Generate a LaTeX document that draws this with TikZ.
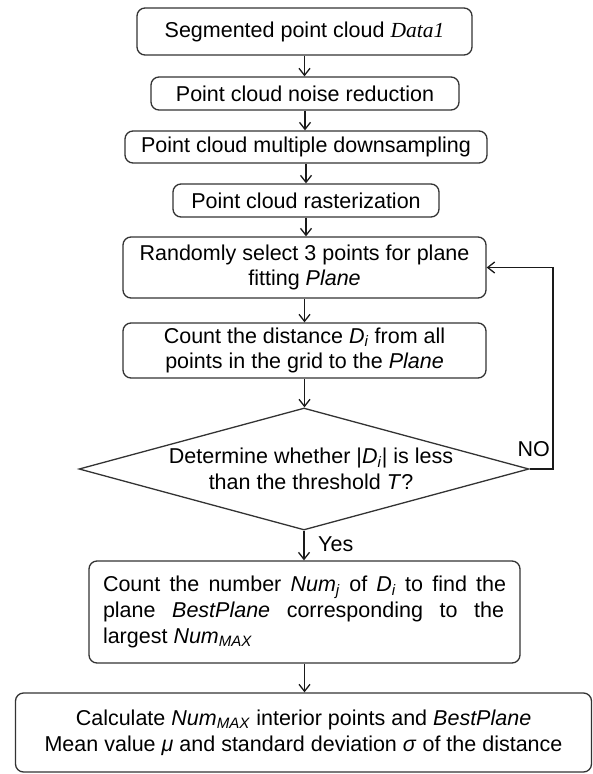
\documentclass[tikz,border=0pt]{standalone}
\usepackage{fontspec}
\setmainfont{Liberation Sans}
\newfontfamily\tnr{Liberation Serif}
\usetikzlibrary{shapes.geometric,arrows.meta}
\definecolor{lin}{HTML}{333333}
\definecolor{arc}{HTML}{1A1A1A}
\tikzset{
  every node/.style={font=\fontsize{21.5pt}{25.8pt}\selectfont, inner sep=0pt},
  rbox/.style={draw=lin, line width=1.3pt, rounded corners=8pt, align=center},
  arr/.style={draw=arc, line width=1.3pt, -{Straight Barb[length=7pt,width=11pt,line width=1.3pt]}},
  dmd/.style={draw=lin, line width=1.3pt, diamond},
}
\newcommand{\sub}[1]{\textsubscript{\textit{#1}}}
\begin{document}
\begin{tikzpicture}[x=1pt,y=-1pt]
\useasboundingbox (0,0) rectangle (593,774);
\node[rbox, minimum width=335pt, minimum height=47pt] (b1) at (304.5,31.5) {Segmented point cloud {\tnr\itshape Data1}};
\node[rbox, minimum width=308pt, minimum height=33pt] (b2) at (305,93.5) {Point cloud noise reduction};
\node[rbox, minimum width=362pt, minimum height=32pt] (b3) at (306,147) {Point cloud multiple downsampling};
\node[rbox, minimum width=266pt, minimum height=33pt] (b4) at (306,200.5) {Point cloud rasterization};
\node[rbox, minimum width=363pt, minimum height=61pt] (b5) at (304.5,267.5) {Randomly select 3 points for plane\\fitting \textit{Plane}};
\node[rbox, minimum width=363pt, minimum height=55pt] (b6) at (304.5,350.5) {Count the distance \textit{D}\sub{i} from all\\points in the grid to the \textit{Plane}};
\node[dmd, minimum width=450pt, minimum height=122pt] (d) at (304,469) {};
\node[align=center] (dt) at (311,469) {Determine whether |\textit{D}\sub{i}| is less\\than the threshold \textit{T}?};
\node[rbox, minimum width=431pt, minimum height=102pt] (b7) at (304.5,612) {\makebox[403pt][s]{Count the number \textit{Num}\sub{j} of \textit{D}\sub{i} to find the}\\\makebox[403pt][s]{plane \textit{BestPlane} corresponding to the\hspace*{2pt}}\\\makebox[403pt][l]{largest \textit{Num}\sub{MAX}}};
\node[rbox, minimum width=576pt, minimum height=79pt] (b8) at (303.5,732.5) {Calculate \textit{Num}\sub{MAX} interior points and \textit{BestPlane}\\Mean value \textit{μ} and standard deviation \textit{σ} of the distance};
\coordinate (lp) at (553,469);
\draw[arr] (b1.south) -- (b1.south |- b2.north);
\draw[arr] (b2.south) -- (b2.south |- b3.north);
\draw[arr] (b3.south) -- (b3.south |- b4.north);
\draw[arr] (b4.south) -- (b4.south |- b5.north);
\draw[arr] (b5.south) -- (b5.south |- b6.north);
\draw[arr] (b6.south) -- (b6.south |- d.north);
\draw[arr] (d.south) -- (d.south |- b7.north);
\draw[arr] (b7.south) -- (b7.south |- b8.north);
\draw[arr] (d.east) -- (lp) |- (b5.east);
\node[anchor=west] (yes) at (318,544) {Yes};
\node[anchor=east] (no) at (550,449) {NO};
\end{tikzpicture}
\end{document}
